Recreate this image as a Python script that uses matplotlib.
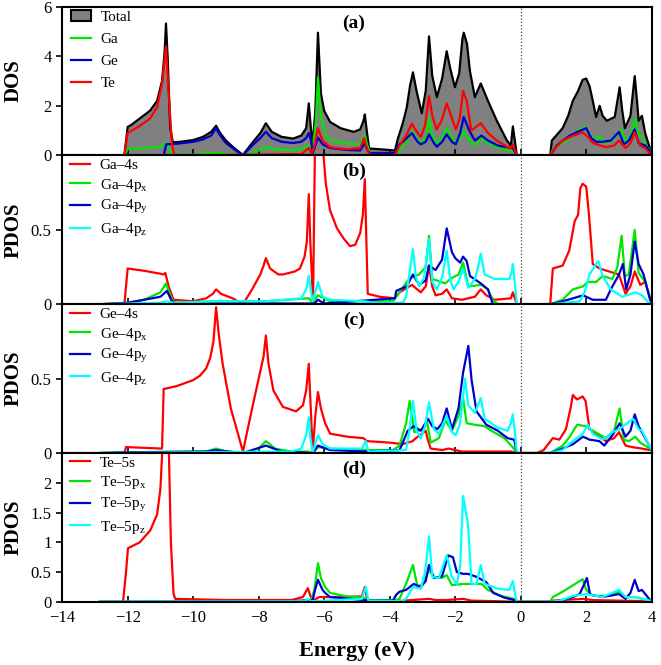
import matplotlib
matplotlib.use("Agg")
import matplotlib.pyplot as plt
from matplotlib.patches import Patch
from matplotlib.lines import Line2D

plt.rcParams['font.family'] = ['Liberation Serif', 'DejaVu Serif']
plt.rcParams['mathtext.fontset'] = 'custom'
plt.rcParams['mathtext.rm'] = 'Liberation Serif'
plt.rcParams['mathtext.it'] = 'Liberation Serif:italic'

# ---- panel (a): total and atom-resolved DOS  (energy, value) ----
total_a = [(-12.85,0),(-12.1,0),(-12.0,1.15),(-11.9,1.22),(-11.62,1.5),(-11.32,1.8),(-11.1,2.2),(-10.95,3.0),(-10.87,4.2),(-10.83,5.32),(-10.78,4.0),(-10.7,1.1),(-10.62,0.53),(-10.4,0.55),(-10.0,0.62),(-9.7,0.75),(-9.45,0.95),(-9.3,1.2),(-9.2,0.95),(-9.0,0.6),(-8.75,0.3),(-8.48,0.02),(-8.2,0.5),(-7.95,0.9),(-7.78,1.3),(-7.6,0.95),(-7.3,0.75),(-6.95,0.68),(-6.7,0.8),(-6.55,1.1),(-6.47,2.1),(-6.4,1.0),(-6.35,0.5),(-6.27,1.8),(-6.19,4.95),(-6.1,2.5),(-6.0,1.8),(-5.82,1.35),(-5.5,1.1),(-5.1,0.95),(-4.9,1.05),(-4.8,1.4),(-4.76,1.65),(-4.7,1.0),(-4.63,0.28),(-4.3,0.25),(-4.0,0.22),(-3.84,0.2),(-3.75,0.68),(-3.6,1.3),(-3.48,1.93),(-3.38,2.8),(-3.29,3.35),(-3.18,2.6),(-3.02,1.7),(-2.9,2.6),(-2.8,4.8),(-2.7,3.2),(-2.56,2.35),(-2.4,3.1),(-2.26,4.2),(-2.15,3.5),(-2.01,2.75),(-1.88,3.3),(-1.78,4.7),(-1.74,4.95),(-1.64,4.5),(-1.55,3.4),(-1.4,2.35),(-1.22,2.9),(-1.0,2.2),(-0.73,1.4),(-0.42,0.6),(-0.3,0.4),(-0.24,1.17),(-0.18,0.6),(-0.12,0.02),(0.0,0.0),(0.9,0),(0.95,0.6),(1.28,1.1),(1.45,1.6),(1.59,2.2),(1.75,2.6),(1.89,3.05),(2.0,3.1),(2.1,2.8),(2.2,2.2),(2.3,1.55),(2.41,2.0),(2.5,1.6),(2.63,1.4),(2.87,1.55),(3.02,2.75),(3.1,1.8),(3.18,1.1),(3.35,1.6),(3.48,3.2),(3.55,2.2),(3.6,1.4),(3.7,1.6),(3.8,0.9),(3.94,0.3),(4.0,0.1)]
ga_a = [(-12.85,0),(-12.1,0),(-12.0,0.26),(-11.5,0.3),(-11.0,0.35),(-10.85,0.5),(-10.75,0.3),(-10.6,0.02),(-10.0,0.03),(-9.3,0.1),(-9.0,0.05),(-8.48,0.0),(-8.0,0.2),(-7.78,0.35),(-7.5,0.25),(-6.95,0.2),(-6.6,0.3),(-6.47,0.4),(-6.35,0.2),(-6.25,1.5),(-6.19,3.15),(-6.1,1.5),(-5.95,0.8),(-5.82,0.6),(-5.3,0.48),(-4.9,0.45),(-4.76,0.8),(-4.68,0.4),(-4.6,0.05),(-3.84,0.04),(-3.7,0.2),(-3.5,0.5),(-3.32,1.0),(-3.2,0.7),(-3.05,0.5),(-2.9,0.7),(-2.8,1.5),(-2.7,0.8),(-2.56,0.5),(-2.4,0.7),(-2.26,1.1),(-2.1,0.7),(-1.98,0.5),(-1.85,0.7),(-1.74,1.0),(-1.62,0.7),(-1.4,0.4),(-1.2,0.7),(-1.0,0.5),(-0.7,0.3),(-0.3,0.2),(-0.24,0.25),(-0.12,0.0),(0.9,0),(0.98,0.25),(1.2,0.45),(1.5,0.7),(1.75,1.0),(1.95,1.15),(2.1,0.8),(2.3,0.6),(2.41,0.8),(2.55,0.5),(2.8,0.6),(3.08,1.05),(3.2,0.5),(3.35,0.8),(3.5,1.5),(3.6,0.8),(3.7,0.75),(3.85,0.35),(4.0,0.15)]
ge_a = [(-12.85,0),(-10.9,0),(-10.82,0.45),(-10.5,0.47),(-10.0,0.55),(-9.7,0.65),(-9.45,0.8),(-9.3,1.1),(-9.2,0.85),(-9.0,0.5),(-8.75,0.25),(-8.48,0.0),(-8.2,0.4),(-7.95,0.7),(-7.78,0.95),(-7.6,0.7),(-7.3,0.55),(-6.95,0.5),(-6.7,0.55),(-6.55,0.7),(-6.47,0.9),(-6.4,0.6),(-6.35,0.1),(-6.27,0.4),(-6.19,0.72),(-6.05,0.45),(-5.82,0.3),(-5.3,0.22),(-4.9,0.2),(-4.76,0.5),(-4.68,0.2),(-4.6,0.1),(-3.84,0.1),(-3.75,0.4),(-3.6,0.55),(-3.32,0.9),(-3.15,0.55),(-3.05,0.45),(-2.9,0.55),(-2.8,0.85),(-2.65,0.5),(-2.56,0.35),(-2.4,0.55),(-2.26,0.85),(-2.1,0.55),(-1.98,0.45),(-1.85,0.9),(-1.74,1.55),(-1.6,1.1),(-1.55,0.95),(-1.4,0.6),(-1.2,0.8),(-1.0,0.6),(-0.7,0.4),(-0.3,0.3),(-0.24,0.3),(-0.12,0.0),(0.9,0),(0.95,0.1),(1.1,0.4),(1.28,0.6),(1.5,0.8),(1.7,0.93),(2.0,1.1),(2.15,0.7),(2.3,0.55),(2.5,0.55),(2.75,0.6),(3.0,0.95),(3.15,0.45),(3.3,0.6),(3.48,1.05),(3.6,0.5),(3.8,0.4),(4.0,0.1)]
te_a = [(-12.85,0),(-12.1,0),(-12.0,0.9),(-11.62,1.2),(-11.32,1.48),(-11.1,1.95),(-10.95,2.9),(-10.83,4.4),(-10.76,2.8),(-10.65,0.5),(-10.58,0.0),(-6.7,0.05),(-6.47,0.3),(-6.38,0.05),(-6.3,0.4),(-6.19,1.1),(-6.05,0.6),(-5.82,0.33),(-5.3,0.25),(-4.9,0.3),(-4.78,0.7),(-4.68,0.2),(-4.6,0.03),(-3.84,0.02),(-3.7,0.4),(-3.5,0.8),(-3.32,1.28),(-3.2,1.0),(-3.05,0.75),(-2.92,1.2),(-2.8,2.4),(-2.7,1.6),(-2.57,1.05),(-2.42,1.4),(-2.26,2.1),(-2.1,1.5),(-1.98,1.05),(-1.86,1.5),(-1.76,2.6),(-1.65,2.2),(-1.51,1.0),(-1.22,1.3),(-1.0,0.9),(-0.73,0.6),(-0.33,0.28),(-0.24,0.45),(-0.12,0.0),(0.9,0),(0.98,0.2),(1.28,0.6),(1.6,0.8),(1.89,0.93),(2.05,0.75),(2.2,0.5),(2.6,0.33),(2.85,0.4),(3.0,0.6),(3.2,0.3),(3.35,0.5),(3.48,0.93),(3.65,0.4),(3.8,0.3),(3.94,0.07),(4.0,0.05)]

# ---- panel (b): Ga orbitals ----
ga_s = [(-12.85,0),(-12.1,0),(-12.0,0.24),(-11.5,0.225),(-11.0,0.205),(-10.9,0.2),(-10.85,0.21),(-10.75,0.12),(-10.6,0.03),(-10.0,0.02),(-9.6,0.04),(-9.4,0.07),(-9.3,0.1),(-9.15,0.07),(-8.8,0.04),(-8.48,0.0),(-8.2,0.1),(-7.95,0.2),(-7.85,0.26),(-7.78,0.31),(-7.65,0.24),(-7.4,0.2),(-7.26,0.2),(-6.9,0.22),(-6.74,0.24),(-6.6,0.32),(-6.53,0.42),(-6.47,0.74),(-6.42,0.4),(-6.34,0.02),(-6.28,1.1),(-6.2,2.0),(-6.1,1.5),(-6.04,1.05),(-5.95,0.81),(-5.82,0.63),(-5.61,0.51),(-5.4,0.44),(-5.21,0.39),(-5.05,0.4),(-4.9,0.48),(-4.82,0.6),(-4.76,0.84),(-4.72,0.5),(-4.67,0.07),(-4.3,0.05),(-3.84,0.04),(-3.7,0.08),(-3.32,0.13),(-3.05,0.08),(-2.9,0.12),(-2.8,0.26),(-2.7,0.12),(-2.6,0.06),(-2.4,0.07),(-2.26,0.1),(-2.1,0.04),(-1.8,0.03),(-1.4,0.05),(-1.22,0.1),(-1.05,0.06),(-0.8,0.03),(-0.3,0.04),(-0.24,0.08),(-0.12,0.0),(0.9,0),(0.98,0.24),(1.28,0.26),(1.48,0.36),(1.65,0.56),(1.75,0.6),(1.82,0.78),(1.89,0.81),(2.0,0.79),(2.08,0.61),(2.2,0.27),(2.41,0.24),(2.7,0.22),(3.0,0.2),(3.2,0.07),(3.35,0.12),(3.48,0.22),(3.65,0.13),(3.8,0.15),(3.95,0.04),(4.0,0.02)]
ga_px = [(-12.85,0),(-12.0,0.01),(-11.5,0.03),(-11.0,0.08),(-10.83,0.14),(-10.7,0.06),(-10.6,0.01),(-9.3,0.02),(-7.78,0.02),(-6.47,0.04),(-6.35,0.01),(-6.19,0.06),(-5.82,0.02),(-4.76,0.02),(-3.9,0.02),(-3.8,0.05),(-3.48,0.15),(-3.35,0.18),(-3.1,0.2),(-2.9,0.25),(-2.8,0.46),(-2.7,0.17),(-2.3,0.14),(-2.15,0.17),(-1.9,0.2),(-1.76,0.28),(-1.6,0.12),(-1.2,0.13),(-1.0,0.1),(-0.85,0.03),(-0.7,0.0),(0.9,0),(1.28,0.03),(1.59,0.1),(1.9,0.12),(2.05,0.15),(2.3,0.15),(2.5,0.19),(2.8,0.17),(2.95,0.25),(3.08,0.46),(3.18,0.19),(3.3,0.2),(3.48,0.5),(3.6,0.21),(3.8,0.15),(3.95,0.04),(4.0,0.02)]
ga_py = [(-12.85,0),(-12.0,0.01),(-11.0,0.05),(-10.8,0.09),(-10.65,0.02),(-10.5,0.005),(-6.3,0.005),(-6.19,0.03),(-6.0,0.005),(-3.84,0.04),(-3.8,0.09),(-3.48,0.12),(-3.29,0.2),(-3.1,0.13),(-2.9,0.16),(-2.8,0.26),(-2.6,0.23),(-2.4,0.3),(-2.26,0.51),(-2.1,0.35),(-2.0,0.31),(-1.85,0.28),(-1.76,0.32),(-1.65,0.29),(-1.55,0.19),(-1.22,0.14),(-1.0,0.1),(-0.85,0.0),(0.9,0),(1.28,0.02),(1.6,0.04),(1.9,0.06),(2.2,0.03),(2.6,0.03),(2.75,0.1),(3.0,0.2),(3.12,0.27),(3.22,0.1),(3.35,0.2),(3.48,0.42),(3.6,0.27),(3.75,0.2),(3.95,0.03),(4.0,0.01)]
ga_pz = [(-12.85,0),(-11.0,0.01),(-10.8,0.02),(-10.6,0.01),(-9.3,0.02),(-7.78,0.02),(-6.7,0.04),(-6.55,0.1),(-6.47,0.19),(-6.4,0.08),(-6.35,0.02),(-6.25,0.1),(-6.19,0.15),(-6.05,0.05),(-5.82,0.03),(-4.76,0.02),(-4.5,0.01),(-3.6,0.01),(-3.5,0.05),(-3.4,0.2),(-3.29,0.37),(-3.2,0.18),(-3.1,0.12),(-2.95,0.18),(-2.8,0.44),(-2.7,0.15),(-2.56,0.1),(-2.4,0.18),(-2.26,0.36),(-2.15,0.16),(-2.05,0.1),(-1.9,0.15),(-1.76,0.24),(-1.6,0.11),(-1.4,0.17),(-1.3,0.25),(-1.22,0.34),(-1.1,0.2),(-0.8,0.17),(-0.35,0.17),(-0.27,0.22),(-0.24,0.27),(-0.16,0.1),(-0.12,0.0),(0.9,0),(1.8,0.02),(1.95,0.08),(2.1,0.2),(2.3,0.27),(2.37,0.29),(2.5,0.19),(2.75,0.1),(3.1,0.05),(3.5,0.08),(3.7,0.06),(3.95,0.0),(4.0,0.0)]

# ---- panel (c): Ge orbitals ----
ge_s = [(-12.85,0),(-12.1,0),(-12.05,0.04),(-11.5,0.035),(-10.95,0.03),(-10.9,0.43),(-10.5,0.45),(-10.0,0.49),(-9.79,0.52),(-9.6,0.57),(-9.48,0.64),(-9.38,0.75),(-9.3,0.98),(-9.22,0.8),(-9.1,0.6),(-8.85,0.3),(-8.48,0.01),(-8.2,0.3),(-7.95,0.55),(-7.85,0.65),(-7.78,0.79),(-7.7,0.6),(-7.55,0.42),(-7.26,0.31),(-6.86,0.28),(-6.65,0.32),(-6.55,0.42),(-6.47,0.6),(-6.42,0.35),(-6.35,0.01),(-6.27,0.25),(-6.19,0.41),(-6.1,0.3),(-5.97,0.2),(-5.82,0.13),(-5.3,0.11),(-4.8,0.1),(-4.7,0.08),(-4.0,0.07),(-3.6,0.06),(-3.3,0.08),(-3.2,0.1),(-2.9,0.15),(-2.85,0.1),(-2.75,0.03),(-2.4,0.02),(-2.2,0.03),(-1.8,0.01),(-0.3,0.01),(-0.12,0.0),(0.5,0.0),(0.7,0.02),(0.98,0.1),(1.18,0.09),(1.38,0.16),(1.52,0.3),(1.59,0.39),(1.72,0.36),(1.89,0.38),(1.98,0.35),(2.1,0.16),(2.3,0.13),(2.6,0.08),(2.85,0.1),(3.0,0.14),(3.2,0.05),(3.4,0.04),(3.7,0.03),(3.94,0.02),(4.0,0.02)]
ge_px = [(-12.85,0),(-12.0,0.005),(-9.6,0.01),(-9.3,0.03),(-9.0,0.01),(-8.48,0.0),(-8.0,0.03),(-7.78,0.08),(-7.5,0.03),(-7.0,0.01),(-6.5,0.01),(-6.35,0.0),(-6.19,0.04),(-5.82,0.03),(-4.76,0.02),(-3.9,0.02),(-3.7,0.05),(-3.5,0.2),(-3.39,0.35),(-3.25,0.14),(-3.0,0.16),(-2.85,0.2),(-2.75,0.07),(-2.5,0.1),(-2.3,0.22),(-2.1,0.15),(-1.9,0.25),(-1.76,0.37),(-1.65,0.2),(-1.4,0.19),(-1.1,0.18),(-0.9,0.15),(-0.5,0.1),(-0.25,0.04),(-0.12,0.0),(0.9,0),(1.28,0.05),(1.5,0.11),(1.72,0.19),(2.0,0.18),(2.2,0.15),(2.6,0.1),(2.85,0.15),(3.02,0.3),(3.15,0.09),(3.3,0.08),(3.5,0.11),(3.65,0.07),(3.95,0.03),(4.0,0.02)]
ge_py = [(-12.85,0),(-12.0,0.005),(-9.6,0.01),(-9.3,0.02),(-8.48,0.0),(-7.78,0.05),(-7.3,0.01),(-6.35,0.0),(-6.19,0.05),(-5.82,0.02),(-4.7,0.01),(-3.7,0.02),(-3.6,0.07),(-3.45,0.15),(-3.27,0.18),(-3.05,0.15),(-2.83,0.23),(-2.7,0.18),(-2.55,0.16),(-2.4,0.2),(-2.26,0.3),(-2.1,0.16),(-1.9,0.3),(-1.76,0.54),(-1.6,0.72),(-1.5,0.49),(-1.35,0.28),(-1.05,0.19),(-0.7,0.15),(-0.4,0.1),(-0.2,0.09),(-0.12,0.0),(0.9,0),(1.28,0.03),(1.6,0.06),(1.9,0.11),(2.1,0.09),(2.4,0.08),(2.55,0.05),(2.8,0.12),(3.02,0.2),(3.2,0.11),(3.35,0.15),(3.48,0.26),(3.6,0.18),(3.8,0.1),(3.95,0.04),(4.0,0.02)]
ge_pz = [(-12.85,0),(-7.0,0.01),(-6.7,0.03),(-6.55,0.12),(-6.47,0.24),(-6.42,0.1),(-6.35,0.0),(-6.25,0.08),(-6.19,0.12),(-6.05,0.06),(-5.82,0.03),(-4.85,0.03),(-4.73,0.08),(-4.65,0.01),(-3.5,0.02),(-3.4,0.15),(-3.29,0.35),(-3.18,0.15),(-3.05,0.1),(-2.92,0.18),(-2.8,0.34),(-2.65,0.16),(-2.5,0.13),(-2.26,0.25),(-2.1,0.14),(-1.98,0.12),(-1.85,0.2),(-1.7,0.5),(-1.6,0.32),(-1.4,0.27),(-1.22,0.37),(-1.1,0.23),(-0.7,0.17),(-0.4,0.15),(-0.3,0.2),(-0.24,0.26),(-0.16,0.1),(-0.12,0.0),(0.9,0),(1.28,0.02),(1.59,0.08),(1.9,0.13),(2.05,0.19),(2.2,0.13),(2.5,0.09),(2.8,0.14),(3.0,0.16),(3.43,0.23),(3.6,0.16),(3.7,0.15),(3.95,0.04),(4.0,0.02)]

# ---- panel (d): Te orbitals ----
te_s = [(-12.85,0),(-12.14,0),(-12.05,0.5),(-11.99,0.9),(-11.63,1.0),(-11.31,1.2),(-11.1,1.47),(-11.0,1.9),(-10.9,3.0),(-10.83,4.3),(-10.76,3.0),(-10.68,1.0),(-10.6,0.14),(-10.55,0.05),(-9.0,0.03),(-7.0,0.03),(-6.65,0.08),(-6.5,0.23),(-6.42,0.1),(-6.35,0.02),(-6.15,0.08),(-5.82,0.08),(-4.85,0.09),(-4.76,0.25),(-4.68,0.02),(-3.8,0.01),(-3.32,0.03),(-2.8,0.05),(-2.6,0.03),(-2.26,0.03),(-1.76,0.05),(-1.5,0.02),(-0.7,0.01),(-0.12,0.0),(0.9,0),(1.0,0.02),(1.28,0.03),(1.9,0.05),(2.2,0.03),(3.0,0.02),(4.0,0.01)]
te_px = [(-12.85,0),(-7.0,0.01),(-6.4,0.02),(-6.3,0.2),(-6.19,0.65),(-6.1,0.4),(-5.97,0.25),(-5.82,0.15),(-5.3,0.09),(-4.8,0.07),(-4.6,0.03),(-3.84,0.03),(-3.7,0.05),(-3.48,0.33),(-3.29,0.62),(-3.15,0.25),(-3.0,0.3),(-2.8,0.53),(-2.65,0.42),(-2.4,0.4),(-2.26,0.45),(-2.1,0.28),(-1.76,0.3),(-1.2,0.3),(-1.0,0.2),(-0.6,0.1),(-0.2,0.05),(-0.12,0.0),(0.9,0),(0.98,0.08),(1.28,0.17),(1.6,0.28),(1.89,0.38),(2.0,0.2),(2.2,0.1),(2.7,0.1),(3.0,0.17),(3.2,0.08),(3.5,0.08),(3.95,0.02),(4.0,0.01)]
te_py = [(-12.85,0),(-7.0,0.01),(-6.35,0.03),(-6.28,0.2),(-6.19,0.37),(-6.05,0.2),(-5.97,0.15),(-5.82,0.08),(-5.0,0.04),(-4.8,0.03),(-4.5,0.02),(-3.9,0.02),(-3.8,0.12),(-3.7,0.17),(-3.5,0.2),(-3.27,0.3),(-3.05,0.25),(-2.9,0.35),(-2.8,0.62),(-2.65,0.4),(-2.4,0.43),(-2.22,0.78),(-2.07,0.75),(-1.95,0.5),(-1.76,0.47),(-1.61,0.47),(-1.35,0.42),(-1.05,0.33),(-0.84,0.15),(-0.5,0.07),(-0.2,0.03),(-0.12,0.0),(0.9,0),(1.2,0.02),(1.6,0.08),(1.8,0.13),(2.02,0.4),(2.12,0.12),(2.5,0.08),(3.0,0.13),(3.2,0.05),(3.35,0.15),(3.48,0.37),(3.6,0.18),(3.7,0.2),(3.95,0.03),(4.0,0.01)]
te_pz = [(-12.85,0),(-6.6,0.01),(-6.5,0.05),(-6.4,0.01),(-4.85,0.05),(-4.73,0.25),(-4.65,0.02),(-3.6,0.01),(-3.48,0.07),(-3.29,0.25),(-3.05,0.22),(-2.92,0.5),(-2.8,1.1),(-2.7,0.42),(-2.5,0.4),(-2.26,0.78),(-2.1,0.42),(-1.95,0.3),(-1.85,0.6),(-1.76,1.78),(-1.61,1.3),(-1.5,0.3),(-1.35,0.3),(-1.22,0.62),(-1.1,0.3),(-0.7,0.22),(-0.35,0.2),(-0.24,0.35),(-0.16,0.1),(-0.12,0.0),(0.9,0),(1.2,0.02),(1.6,0.1),(2.0,0.13),(2.5,0.08),(3.0,0.2),(3.2,0.08),(3.5,0.08),(3.95,0.02),(4.0,0.01)]

RED, GREEN, BLUE, CYAN = '#ff0000', '#00e600', '#0000cd', '#00ffff'
LW = 1.6

def xy(pairs):
    return [p[0] for p in pairs], [p[1] for p in pairs]

fig, axes = plt.subplots(4, 1, sharex=True, figsize=(6.61, 6.65), dpi=100)
fig.subplots_adjust(left=0.094, right=0.986, top=0.990, bottom=0.095, hspace=0)

# (a)
ax = axes[0]
x, y = xy(total_a)
ax.fill_between(x, 0, y, color='#808080', lw=0)
ax.plot(x, y, color='black', lw=LW)
for pairs, c in [(ga_a, GREEN), (ge_a, BLUE), (te_a, RED)]:
    ax.plot(*xy(pairs), color=c, lw=LW)
handles = [Patch(facecolor='#808080', edgecolor='black', lw=1.5, label='Total'),
           Line2D([], [], color=GREEN, lw=LW, label='Ga'),
           Line2D([], [], color=BLUE, lw=LW, label='Ge'),
           Line2D([], [], color=RED, lw=LW, label='Te')]
ax.legend(handles=handles, loc='upper left', bbox_to_anchor=(0.009, 1.0), frameon=False,
          fontsize=11, handlelength=1.3, handletextpad=0.6, labelspacing=0.55,
          borderaxespad=0.0, borderpad=0.25)
ax.set_ylim(0, 6)
ax.set_yticks([0, 2, 4, 6])
ax.set_ylabel('DOS')

# (b)-(d)
panels = [
    (axes[1], 'Ga', '4', [ga_s, ga_px, ga_py, ga_pz], 1.0, [0, 0.5], ['0', '0.5']),
    (axes[2], 'Ge', '4', [ge_s, ge_px, ge_py, ge_pz], 1.0, [0, 0.5], ['0', '0.5']),
    (axes[3], 'Te', '5', [te_s, te_px, te_py, te_pz], 2.5, [0, 0.5, 1, 1.5, 2], ['0', '0.5', '1', '1.5', '2']),
]
for ax, el, n, curves, ymax, yt, ytl in panels:
    labels = [f'{el}\u2013{n}s', f'{el}\u2013{n}p$_\\mathregular{{x}}$',
              f'{el}\u2013{n}p$_\\mathregular{{y}}$', f'{el}\u2013{n}p$_\\mathregular{{z}}$']
    for pairs, c, lab in zip(curves, [RED, GREEN, BLUE, CYAN], labels):
        ax.plot(*xy(pairs), color=c, lw=LW, label=lab)
    ax.legend(loc='upper left', bbox_to_anchor=(0.009, 1.0), frameon=False, fontsize=11,
              handlelength=1.3, handletextpad=0.6, labelspacing=0.3,
              borderaxespad=0.0, borderpad=0.2)
    ax.set_ylim(0, ymax)
    ax.set_yticks(yt)
    ax.set_yticklabels(ytl)
    ax.set_ylabel('PDOS')

for ax, tag in zip(axes, ['(a)', '(b)', '(c)', '(d)']):
    ax.axvline(0, color='#444444', ls=':', lw=0.9)
    ax.text(-5.1, 0.89, tag, transform=ax.get_xaxis_transform(), ha='center', va='center',
            fontsize=14, fontweight='bold')
    ax.yaxis.label.set_fontsize(15)
    ax.yaxis.label.set_fontweight('bold')
    ax.yaxis.set_label_coords(-0.065, 0.5)
    ax.tick_params(axis='y', direction='out', length=4, width=1.2, labelsize=12)
    ax.tick_params(axis='x', direction='in', length=4, width=1.2, labelsize=12, pad=6)
    for s in ax.spines.values():
        s.set_linewidth(1.5)

axes[3].set_xlim(-14, 4)
axes[3].set_xticks(range(-14, 5, 2))
axes[3].set_xlabel('Energy (eV)', fontsize=16, fontweight='bold', labelpad=11)

fig.savefig('out.png', dpi=100)
